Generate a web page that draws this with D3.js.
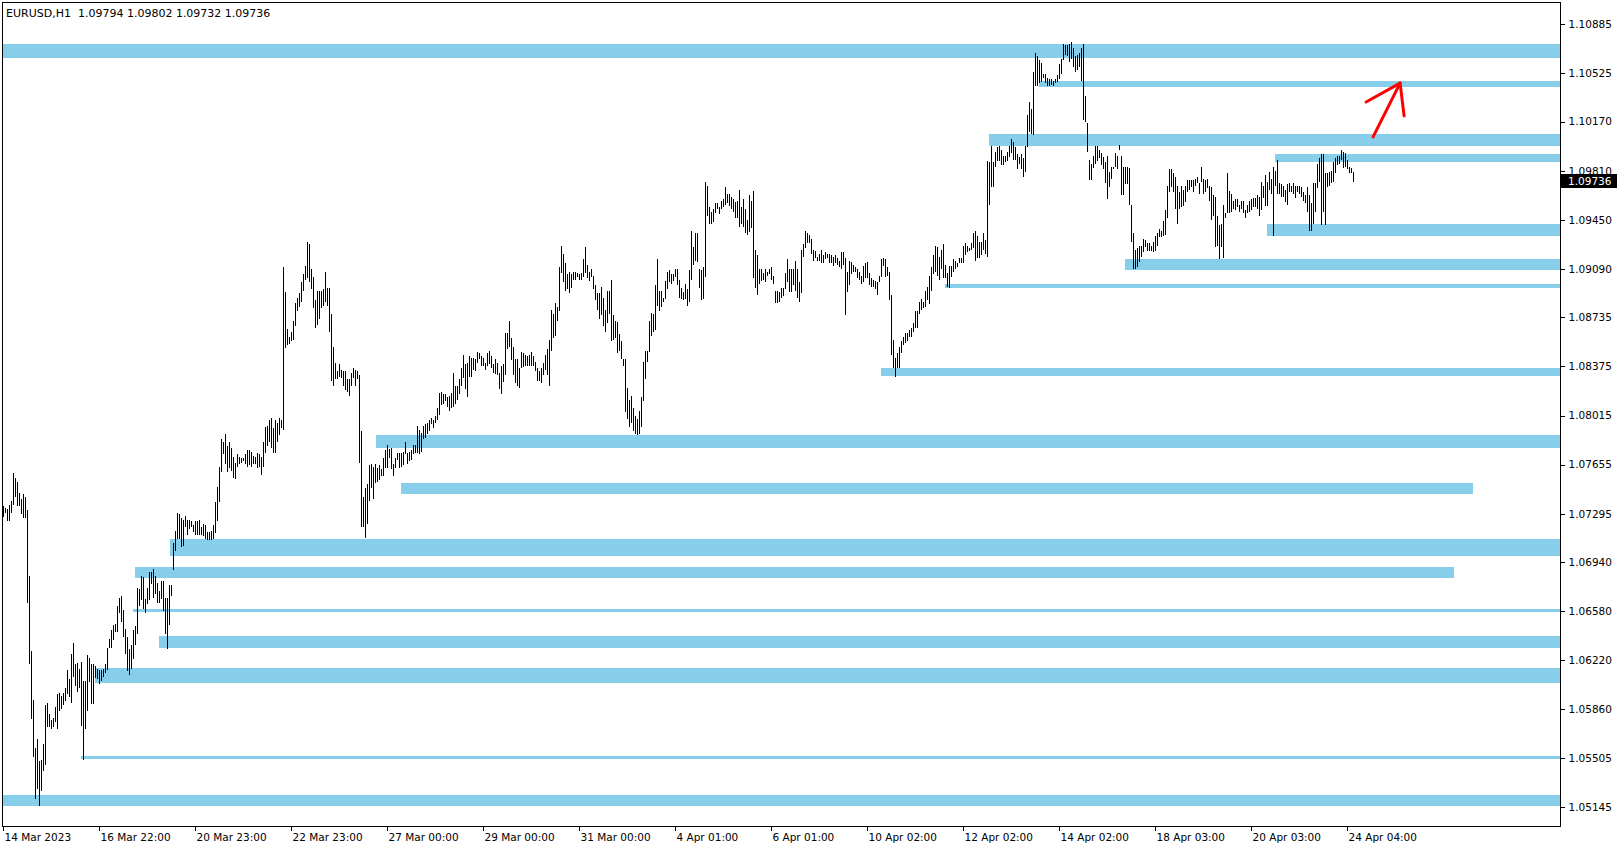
<!DOCTYPE html>
<html><head><meta charset="utf-8">
<script src="https://cdn.jsdelivr.net/npm/d3@7"></script>
<style>body{margin:0;background:#fff;}svg{display:block;}</style>
</head><body>
<svg id="chart" width="1624" height="850"></svg>
<script>
const chartTitle = "EURUSD,H1  1.09794 1.09802 1.09732 1.09736";
const lastPrice = 1.09736;

// hourly bar highs (bar 0 = 14 Mar 2023 00:00)
const highs = [
1.0735,1.0734,1.0733,1.0736,1.0739,1.0759,1.0756,1.0753,1.0745,1.0740,
1.0744,1.0742,1.0732,1.0684,1.0629,1.0593,1.0558,1.0564,1.0548,1.0549,
1.0561,1.0589,1.0591,1.0583,1.0578,1.0580,1.0588,1.0597,1.0598,1.0596,
1.0598,1.0602,1.0615,1.0608,1.0627,1.0635,1.0619,1.0620,1.0616,1.0621,
1.0607,1.0607,1.0626,1.0624,1.0619,1.0619,1.0618,1.0616,1.0615,1.0615,
1.0616,1.0619,1.0631,1.0638,1.0644,1.0648,1.0649,1.0662,1.0668,1.0669,
1.0659,1.0645,1.0639,1.0630,1.0633,1.0644,1.0647,1.0675,1.0674,1.0684,
1.0683,1.0667,1.0675,1.0687,1.0687,1.0689,1.0684,1.0679,1.0673,1.0680,
1.0680,1.0668,1.0668,1.0677,1.0677,1.0708,1.0717,1.0730,1.0729,1.0726,
1.0725,1.0728,1.0725,1.0725,1.0724,1.0721,1.0724,1.0724,1.0725,
1.0720,1.0722,1.0721,1.0716,1.0716,1.0717,1.0721,1.0738,1.0749,1.0764,
1.0784,1.0782,1.0788,1.0779,1.0782,1.0778,1.0771,1.0767,1.0773,1.0771,
1.0770,1.0770,1.0773,1.0776,1.0776,1.0775,1.0772,1.0771,1.0774,1.0773,
1.0771,1.0782,1.0793,1.0794,1.0798,1.0800,1.0792,1.0798,1.0796,1.0800,
1.0798,1.0910,1.0892,1.0865,1.0859,1.0863,1.0871,1.0884,1.0888,1.0891,
1.0899,1.0905,1.0911,1.0929,1.0927,1.0909,1.0903,1.0886,1.0893,1.0893,
1.0893,1.0894,1.0907,1.0895,1.0895,1.0876,1.0852,1.0840,1.0834,1.0839,
1.0835,1.0834,1.0834,1.0828,1.0828,1.0833,1.0836,1.0835,1.0834,1.0831,
1.0790,1.0742,1.0748,1.0751,1.0765,1.0766,1.0764,1.0766,1.0763,1.0765,
1.0762,1.0770,1.0776,1.0780,1.0777,1.0778,1.0766,1.0770,1.0774,1.0774,
1.0774,1.0775,1.0782,1.0774,1.0775,1.0776,1.0780,1.0780,1.0794,1.0791,
1.0789,1.0794,1.0795,1.0796,1.0798,1.0800,1.0798,1.0801,1.0807,1.0818,
1.0819,1.0817,1.0817,1.0815,1.0816,1.0818,1.0833,1.0823,1.0823,1.0828,
1.0836,1.0846,1.0839,1.0840,1.0845,1.0844,1.0844,1.0843,1.0848,1.0847,
1.0845,1.0844,1.0840,1.0847,1.0849,1.0845,1.0839,1.0843,1.0840,1.0833,
1.0838,1.0839,1.0862,1.0862,1.0871,1.0858,1.0852,1.0843,1.0843,1.0836,
1.0848,1.0847,1.0846,1.0845,1.0846,1.0848,1.0845,1.0841,1.0836,1.0834,
1.0836,1.0840,1.0846,1.0850,1.0857,1.0879,1.0876,1.0884,1.0881,1.0910,
1.0926,1.0920,1.0913,1.0905,1.0907,1.0905,1.0907,1.0907,1.0906,1.0905,
1.0906,1.0916,1.0925,1.0912,1.0907,1.0909,1.0904,1.0897,1.0891,1.0891,
1.0896,1.0888,1.0879,1.0893,1.0893,1.0901,1.0875,1.0871,1.0870,1.0861,
1.0856,1.0843,1.0843,1.0822,1.0813,1.0816,1.0807,1.0801,1.0799,1.0805,
1.0815,1.0841,1.0849,1.0849,1.0871,1.0877,1.0876,1.0897,1.0916,1.0893,
1.0893,1.0888,1.0900,1.0907,1.0908,1.0905,1.0905,1.0909,1.0909,1.0901,
1.0895,1.0892,1.0898,1.0894,1.0908,1.0937,1.0925,1.0935,1.0935,1.0909,
1.0908,1.0910,1.0973,1.0970,1.0954,1.0951,1.0953,1.0957,1.0957,1.0954,
1.0959,1.0960,1.0969,1.0964,1.0964,1.0962,1.0960,1.0958,1.0959,1.0967,
1.0954,1.0960,1.0953,1.0945,1.0963,1.0959,1.0966,1.0923,1.0919,1.0909,
1.0909,1.0906,1.0909,1.0907,1.0909,1.0910,1.0904,1.0893,1.0893,1.0892,
1.0895,1.0895,1.0906,1.0916,1.0909,1.0909,1.0909,1.0915,1.0909,1.0899,
1.0923,1.0927,1.0937,1.0935,1.0934,1.0931,1.0923,1.0922,1.0918,1.0920,
1.0923,1.0919,1.0921,1.0920,1.0920,1.0919,1.0918,1.0919,1.0917,1.0915,
1.0921,1.0921,1.0917,1.0907,1.0915,1.0914,1.0912,1.0910,1.0909,1.0907,
1.0904,1.0911,1.0913,1.0914,1.0906,1.0902,1.0901,1.0900,1.0899,1.0904,
1.0916,1.0917,1.0916,1.0910,1.0907,1.0890,1.0857,1.0844,1.0847,1.0852,
1.0856,1.0859,1.0862,1.0862,1.0864,1.0866,1.0869,1.0878,1.0878,1.0885,
1.0887,1.0885,1.0893,1.0896,1.0904,1.0910,1.0919,1.0926,1.0925,1.0918,
1.0923,1.0927,1.0912,1.0906,1.0911,1.0911,1.0916,1.0915,1.0913,1.0917,
1.0917,1.0926,1.0928,1.0926,1.0924,1.0928,1.0935,1.0937,1.0933,1.0929,
1.0929,1.0935,1.0930,1.0988,1.0987,1.0999,1.0987,1.0995,1.0998,1.0999,
1.0996,1.0992,1.0992,1.0995,1.0999,1.1004,1.1002,1.0998,1.0993,1.0991,
1.0993,1.0990,1.0999,1.1022,1.1031,1.1026,1.1053,1.1067,1.1065,1.1062,
1.1060,1.1052,1.1052,1.1049,1.1048,1.1048,1.1047,1.1048,1.1051,1.1059,
1.1063,1.1074,1.1073,1.1073,1.1074,1.1075,1.1071,1.1065,1.1066,1.1067,
1.1071,1.1074,1.1036,1.1016,1.0989,1.0986,1.0992,1.0999,1.0999,1.0996,
1.0994,1.0991,1.0987,1.0992,1.0980,1.0984,1.0984,1.0994,1.0992,1.1000,
1.0992,1.0984,1.0984,1.0984,1.0983,1.0956,1.0935,1.0923,1.0924,1.0926,
1.0926,1.0931,1.0930,1.0928,1.0928,
1.0926,1.0929,1.0933,1.0935,1.0938,1.0937,1.0944,1.0952,1.0970,1.0982,
1.0982,1.0979,1.0976,1.0970,1.0965,1.0970,1.0967,1.0970,1.0974,1.0974,
1.0974,1.0974,1.0975,1.0976,1.0972,1.0984,1.0975,1.0974,1.0975,1.0970,
1.0969,1.0963,1.0962,1.0948,1.0941,1.0942,1.0956,1.0950,1.0979,1.0966,
1.0964,1.0959,1.0960,1.0960,1.0956,1.0959,1.0959,1.0952,1.0956,1.0959,
1.0960,1.0961,1.0961,1.0963,1.0962,1.0973,1.0970,1.0978,1.0973,1.0980,
1.0975,1.0984,1.0981,1.0989,1.0972,1.0971,1.0970,1.0967,1.0971,1.0972,
1.0970,1.0972,1.0970,1.0970,1.0970,1.0969,1.0965,1.0963,1.0969,1.0963,
1.0957,1.0972,1.0972,1.0986,1.0990,1.0993,1.0993,1.0979,1.0979,1.0980,
1.0981,1.0987,1.0990,1.0992,1.0992,1.0996,1.0995,1.0994,1.0989,1.0984,
1.0983,1.0980
];

// hourly bar lows
const lows = [
1.0727,1.0730,1.0724,1.0724,1.0730,1.0736,1.0742,1.0735,1.0735,1.0729,
1.0726,1.0726,1.0664,1.0619,1.0579,1.0551,1.0520,1.0528,1.0515,1.0526,
1.0541,1.0545,1.0573,1.0573,1.0572,1.0573,1.0577,1.0572,1.0585,1.0586,
1.0589,1.0592,1.0597,1.0595,1.0591,1.0610,1.0603,1.0599,1.0602,1.0574,
1.0549,1.0572,1.0585,1.0606,1.0590,1.0590,1.0609,1.0608,1.0605,1.0607,
1.0610,1.0613,1.0615,1.0631,1.0631,1.0637,1.0643,1.0643,1.0657,1.0650,
1.0639,1.0627,1.0614,1.0611,1.0616,1.0623,1.0633,1.0641,1.0662,1.0666,
1.0660,1.0657,1.0663,1.0666,1.0678,1.0668,1.0671,1.0664,1.0664,1.0667,
1.0658,1.0641,1.0630,1.0648,1.0669,1.0688,1.0702,1.0711,1.0711,1.0705,
1.0706,1.0720,1.0714,1.0718,1.0720,1.0716,1.0714,1.0714,1.0714,
1.0714,1.0713,1.0711,1.0710,1.0710,1.0710,1.0711,1.0715,1.0724,1.0738,
1.0760,1.0773,1.0766,1.0760,1.0763,1.0761,1.0756,1.0755,1.0764,1.0766,
1.0767,1.0768,1.0766,1.0764,1.0765,1.0764,1.0766,1.0766,1.0763,1.0764,
1.0758,1.0764,1.0774,1.0779,1.0782,1.0778,1.0774,1.0774,1.0782,1.0787,
1.0792,1.0791,1.0851,1.0853,1.0854,1.0856,1.0857,1.0867,1.0878,1.0881,
1.0885,1.0893,1.0901,1.0902,1.0899,1.0894,1.0880,1.0866,1.0868,1.0872,
1.0880,1.0882,1.0885,1.0882,1.0863,1.0827,1.0823,1.0828,1.0828,1.0830,
1.0829,1.0823,1.0820,1.0819,1.0816,1.0823,1.0829,1.0823,1.0828,1.0767,
1.0720,1.0720,1.0712,1.0722,1.0739,1.0748,1.0740,1.0752,1.0753,1.0754,
1.0757,1.0757,1.0763,1.0763,1.0770,1.0762,1.0757,1.0763,1.0769,1.0763,
1.0764,1.0765,1.0773,1.0766,1.0768,1.0769,1.0773,1.0774,1.0774,1.0773,
1.0775,1.0784,1.0785,1.0788,1.0790,1.0795,1.0792,1.0796,1.0798,1.0802,
1.0809,1.0810,1.0812,1.0808,1.0805,1.0807,1.0808,1.0810,1.0813,1.0817,
1.0823,1.0829,1.0821,1.0815,1.0830,1.0830,1.0835,1.0834,1.0840,1.0843,
1.0838,1.0838,1.0835,1.0838,1.0839,1.0836,1.0833,1.0832,1.0831,1.0821,
1.0817,1.0826,1.0831,1.0850,1.0852,1.0842,1.0831,1.0825,1.0823,1.0822,
1.0836,1.0837,1.0838,1.0838,1.0838,1.0838,1.0838,1.0834,1.0827,1.0827,
1.0825,1.0831,1.0835,1.0831,1.0823,1.0849,1.0858,1.0860,1.0871,1.0878,
1.0906,1.0899,1.0893,1.0894,1.0891,1.0895,1.0901,1.0901,1.0903,1.0901,
1.0901,1.0903,1.0906,1.0902,1.0900,1.0903,1.0894,1.0886,1.0879,1.0872,
1.0875,1.0867,1.0863,1.0869,1.0876,1.0856,1.0857,1.0858,1.0847,1.0849,
1.0843,1.0838,1.0804,1.0799,1.0793,1.0796,1.0790,1.0788,1.0787,1.0788,
1.0793,1.0812,1.0828,1.0841,1.0848,1.0860,1.0863,1.0864,1.0882,1.0878,
1.0881,1.0885,1.0887,1.0894,1.0899,1.0898,1.0900,1.0903,1.0897,1.0888,
1.0887,1.0886,1.0887,1.0882,1.0885,1.0901,1.0912,1.0915,1.0914,1.0895,
1.0886,1.0887,1.0903,1.0948,1.0942,1.0942,1.0943,1.0950,1.0953,1.0949,
1.0953,1.0954,1.0956,1.0957,1.0955,1.0953,1.0951,1.0946,1.0946,1.0940,
1.0942,1.0940,1.0935,1.0934,1.0936,1.0939,1.0902,1.0895,1.0890,1.0898,
1.0900,1.0901,1.0899,1.0904,1.0905,1.0901,1.0898,1.0884,1.0884,1.0885,
1.0888,1.0889,1.0894,1.0899,1.0892,1.0892,1.0897,1.0893,1.0888,1.0885,
1.0891,1.0918,1.0924,1.0928,1.0928,1.0920,1.0915,1.0917,1.0915,1.0915,
1.0913,1.0913,1.0916,1.0917,1.0913,1.0913,1.0911,1.0913,1.0912,1.0910,
1.0909,1.0912,1.0875,1.0892,1.0897,1.0905,1.0907,1.0907,1.0902,1.0901,
1.0898,1.0899,1.0902,1.0902,1.0897,1.0896,1.0896,1.0894,1.0890,1.0899,
1.0903,1.0911,1.0903,1.0904,1.0886,1.0846,1.0836,1.0830,1.0836,1.0836,
1.0847,1.0853,1.0855,1.0856,1.0859,1.0859,1.0863,1.0866,1.0866,1.0876,
1.0879,1.0880,1.0881,1.0886,1.0883,1.0893,1.0905,1.0907,1.0904,1.0901,
1.0909,1.0902,1.0902,1.0896,1.0895,1.0903,1.0907,1.0909,1.0910,1.0913,
1.0913,1.0913,1.0919,1.0921,1.0922,1.0923,1.0924,1.0915,1.0917,1.0917,
1.0919,1.0923,1.0920,1.0918,1.0956,1.0969,1.0969,1.0984,1.0988,1.0988,
1.0985,1.0985,1.0987,1.0988,1.0991,1.0994,1.0989,1.0989,1.0982,1.0986,
1.0982,1.0976,1.0980,1.0998,1.1009,1.1008,1.1007,1.1043,1.1043,1.1045,
1.1046,1.1049,1.1045,1.1043,1.1043,1.1044,1.1043,1.1045,1.1046,1.1048,
1.1052,1.1062,1.1066,1.1065,1.1061,1.1063,1.1057,1.1053,1.1055,1.1057,
1.1047,1.1018,1.1017,1.0995,1.0974,1.0974,1.0983,1.0986,1.0988,1.0990,
1.0985,1.0982,1.0972,1.0960,1.0969,1.0975,1.0982,1.0984,1.0982,1.0996,
1.0963,1.0963,1.0971,1.0971,1.0956,1.0929,1.0909,1.0909,1.0910,1.0914,
1.0918,1.0921,1.0925,1.0922,1.0922,
1.0922,1.0921,1.0922,1.0926,1.0932,1.0932,1.0933,1.0934,1.0946,1.0965,
1.0969,1.0965,1.0953,1.0942,1.0953,1.0954,1.0955,1.0958,1.0965,1.0967,
1.0969,1.0965,1.0970,1.0972,1.0964,1.0973,1.0964,1.0965,1.0968,1.0959,
1.0945,1.0948,1.0925,1.0926,1.0916,1.0925,1.0917,1.0946,1.0950,1.0950,
1.0951,1.0953,1.0952,1.0954,1.0951,1.0953,1.0950,1.0946,1.0950,1.0951,
1.0952,1.0954,1.0954,1.0953,1.0948,1.0952,1.0961,1.0955,1.0955,1.0967,
1.0964,1.0933,1.0970,1.0964,1.0964,1.0962,1.0962,1.0958,1.0956,1.0965,
1.0965,1.0964,1.0961,1.0965,1.0964,1.0962,1.0959,1.0957,1.0951,1.0937,
1.0937,1.0942,1.0951,1.0968,1.0973,1.0941,1.0951,1.0941,1.0969,1.0970,
1.0972,1.0973,1.0979,1.0985,1.0986,1.0989,1.0983,1.0984,1.0982,1.0979,
1.0979,1.0973
];

// price axis tick labels
const priceTicks = [1.10885,1.10525,1.10170,1.09810,1.09450,1.09090,1.08735,1.08375,1.08015,
                    1.07655,1.07295,1.06940,1.06580,1.06220,1.05860,1.05505,1.05145];
// time axis labels and the bar they sit on
const timeLabels = ["14 Mar 2023","16 Mar 22:00","20 Mar 23:00","22 Mar 23:00","27 Mar 00:00",
  "29 Mar 00:00","31 Mar 00:00","4 Apr 01:00","6 Apr 01:00","10 Apr 02:00","12 Apr 02:00",
  "14 Apr 02:00","18 Apr 03:00","20 Apr 03:00","24 Apr 04:00"];
const timeLabelBars = [0,48,96,144,192,240,288,336,384,432,480,528,576,624,672];

// support / resistance zones (price top, price bottom, first bar, last bar; null = chart edge)
const zoneTop    = [1.10738,1.10469,1.10079,1.09932,1.09419,1.09162,1.08979,1.08363,1.07872,1.07523,1.07110,1.06904,1.06596,1.06398,1.06164,1.05519,1.05233];
const zoneBottom = [1.10638,1.10425,1.09993,1.09873,1.09331,1.09082,1.08950,1.08305,1.07777,1.07439,1.06987,1.06826,1.06574,1.06313,1.06056,1.05499,1.05154];
const zoneStart  = [null,518,493,636,632,561,471,439,187,199,84,66,65,78,46,39,null];
const zoneEnd    = [null,null,null,null,null,null,null,null,null,735,null,725,null,null,null,null,null];

// hand-drawn red arrow (bar index, price)
const arrowShaft = [[684.8,1.10057],[698.3,1.10452]];
const arrowHead  = [[681.3,1.10313],[698.3,1.10452],[700.3,1.10211]];

const svg = d3.select("#chart");
const W = 1624, H = 850;
const L = 2, T = 2, R = 1560, B = 826;
const FONT = "DejaVu Sans, Verdana, sans-serif";

svg.append("rect").attr("width", W).attr("height", H).attr("fill", "#fff");

const x = d3.scaleLinear().domain([0, 675]).range([3.5, 1353.5]);
const y = d3.scaleLinear().domain([1.05145, 1.10885]).range([807, 24]);

const plot = svg.append("g");
plot.append("clipPath").attr("id", "clip").append("rect")
  .attr("x", L + 1).attr("y", T + 1).attr("width", R - L - 1).attr("height", B - T - 1);
const inner = plot.append("g").attr("clip-path", "url(#clip)");

// zones
const zones = zoneTop.map((t, i) => ({t, b: zoneBottom[i], s: zoneStart[i], e: zoneEnd[i]}));
inner.selectAll("rect.zone").data(zones).join("rect")
  .attr("class", "zone")
  .attr("x", d => d.s === null ? L : Math.round(x(d.s)) - 1)
  .attr("width", d => (d.e === null ? R : Math.round(x(d.e))) - (d.s === null ? L : Math.round(x(d.s)) - 1))
  .attr("y", d => Math.round(y(d.t)))
  .attr("height", d => Math.max(3, Math.round(y(d.b)) - Math.round(y(d.t))))
  .attr("fill", "#87CEEB");

// bars
const bars = highs.map((h, i) => ({i, h, l: lows[i]}));
inner.selectAll("line.bar").data(bars).join("line")
  .attr("class", "bar")
  .attr("x1", d => Math.floor(x(d.i)) + 0.5).attr("x2", d => Math.floor(x(d.i)) + 0.5)
  .attr("y1", d => Math.round(y(d.h))).attr("y2", d => Math.max(Math.round(y(d.l)), Math.round(y(d.h)) + 2))
  .attr("stroke", "#000").attr("stroke-width", 1).attr("shape-rendering", "crispEdges");

// red arrow
const ln = d3.line().x(d => x(d[0])).y(d => y(d[1]));
inner.append("path").attr("d", ln(arrowShaft)).attr("fill", "none")
  .attr("stroke", "#ff0000").attr("stroke-width", 3).attr("stroke-linecap", "round");
inner.append("path").attr("d", ln(arrowHead)).attr("fill", "none")
  .attr("stroke", "#ff0000").attr("stroke-width", 3).attr("stroke-linecap", "round").attr("stroke-linejoin", "round");

// frame
svg.append("rect").attr("x", L + 0.5).attr("y", T + 0.5).attr("width", R - L).attr("height", B - T)
  .attr("fill", "none").attr("stroke", "#000").attr("stroke-width", 1).attr("shape-rendering", "crispEdges");

// price axis
const yAxis = d3.axisRight(y).tickValues(priceTicks).tickFormat(d3.format(".5f")).tickSize(4).tickPadding(4).tickSizeOuter(0);
const gy = svg.append("g").attr("transform", `translate(${R + 0.5},0)`).call(yAxis);
gy.select(".domain").remove();
gy.selectAll("line").attr("stroke", "#000").attr("shape-rendering", "crispEdges");
gy.selectAll("text").attr("font-family", FONT).attr("font-size", "10.5px").attr("fill", "#000");

// time axis
const xAxis = d3.axisBottom(x).tickValues(timeLabelBars).tickFormat((d, i) => timeLabels[i]).tickSize(4).tickSizeOuter(0);
const gx = svg.append("g").attr("transform", `translate(-0.5,${B + 0.5})`).call(xAxis);
gx.select(".domain").remove();
gx.selectAll("line").attr("stroke", "#000").attr("shape-rendering", "crispEdges");
gx.selectAll("text").attr("font-family", FONT).attr("font-size", "10.5px").attr("fill", "#000")
  .attr("text-anchor", "start").attr("x", 1).attr("y", 14).attr("dy", null);

// last price label
const lp = y(lastPrice);
svg.append("rect").attr("x", R + 1).attr("y", Math.round(lp) - 7).attr("width", 56).attr("height", 14).attr("fill", "#000");
svg.append("text").attr("x", R + 8).attr("y", Math.round(lp) + 4)
  .attr("font-family", FONT).attr("font-size", "10.5px").attr("fill", "#fff").text(d3.format(".5f")(lastPrice));

// title
svg.append("text").attr("x", 6).attr("y", 17).attr("font-family", FONT).attr("font-size", "11px")
  .attr("fill", "#000").attr("xml:space", "preserve").style("white-space", "pre").text(chartTitle);
</script>
</body></html>
